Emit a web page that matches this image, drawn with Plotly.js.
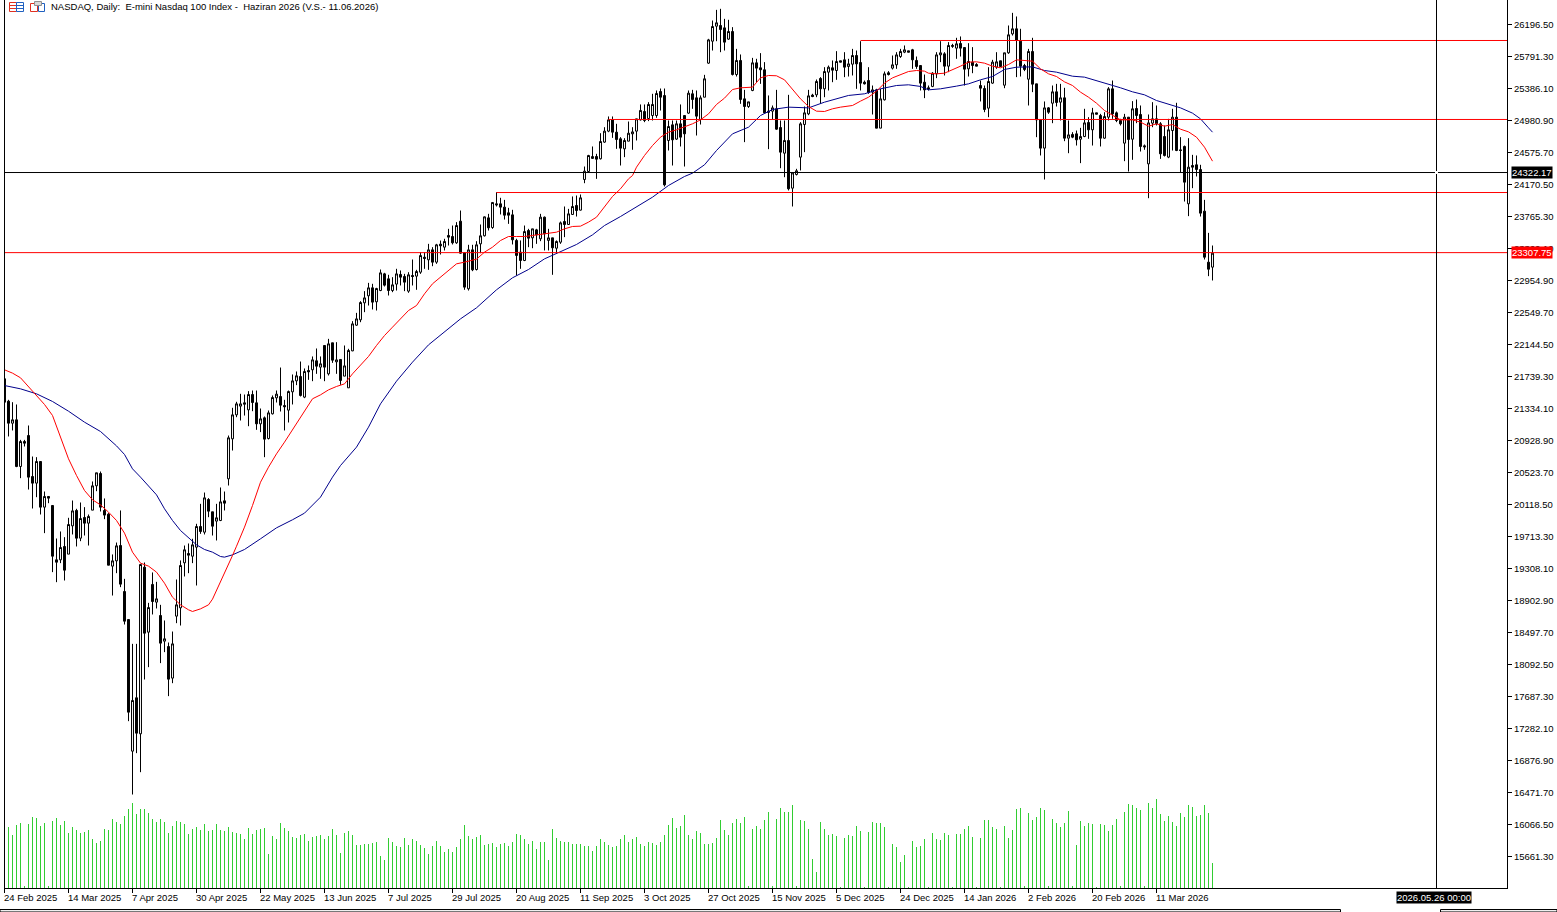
<!DOCTYPE html>
<html><head><meta charset="utf-8">
<script src="https://cdn.plot.ly/plotly-3.0.1.min.js"></script>
<style>html,body{margin:0;padding:0;background:#fff;overflow:hidden}#c{width:1557px;height:912px}</style>
</head><body><div id="c"></div>
<script>
const opens=[21710,21427,21148,21191,20600,20916,20992,20473,20389,20663,
20085,20220,20106,19418,19418,19587,19490,19848,20043,19692,
19954,19882,20047,20355,20511,20043,19996,19338,19405,19599,
19017,18662,16995,17671,17215,19325,18502,19106,18882,18713,
18388,18320,17920,18705,18810,19380,19498,19464,19578,19840,
19768,20182,20026,19908,19916,20165,20444,20950,21254,21364,
21406,21317,21511,21406,21140,21216,20954,21267,21469,21486,
21372,21313,21545,21684,21739,21478,21815,21824,21938,21858,
22132,21773,22166,21925,21955,21744,21596,22064,22389,22457,
22672,22761,22862,22685,22828,23039,22976,22828,22909,23031,
23006,22820,23018,23010,23060,23250,23217,23343,23187,23415,
23377,23525,23512,23432,23706,23305,22850,23343,23094,23419,
23521,23748,23626,23926,23926,23884,23812,23786,23462,23314,
23208,23588,23495,23596,23483,23757,23462,23495,23364,23440,
23702,23664,23791,23905,23846,24234,24335,24500,24525,24496,
24707,24846,24989,24833,24749,24622,24719,24812,24846,24989,
25095,25006,25044,25044,25348,25297,24728,24926,24745,24939,
25044,25074,25319,25268,24994,25276,25707,25985,26175,26184,
26154,26011,26108,25563,25741,25255,25158,25361,25711,25648,
25623,25099,25099,25129,24892,24567,24728,24124,24297,24517,
24930,25065,25302,25306,25513,25382,25593,25648,25614,25737,
25749,25665,25694,25804,25715,25466,25487,25340,25369,24884,
25243,25585,25644,25686,25791,25846,25863,25876,25741,25677,
25466,25395,25412,25572,25812,25825,25669,25918,25897,25956,
25905,25635,25720,25690,25424,25386,25137,25454,25656,25737,
25428,25838,26078,26142,25985,25677,25504,25855,25445,24989,
24631,25141,25200,25344,25213,25268,24757,24804,24812,24744,
24778,24956,24863,25078,25044,24757,25023,25382,25078,24981,
24694,25023,24744,25133,25057,24660,24432,24947,25002,24939,
24778,24517,24854,25023,24609,24652,23926,24411,24420,24360,
23833,23187,23124];
const highs=[21710,21444,21414,21385,20937,20937,21119,20726,20718,20663,
20283,20220,20106,19688,19777,19705,19950,20169,20064,20144,
20085,19992,20410,20520,20536,20195,20009,19486,19637,20043,
19177,18662,18354,18354,19367,19384,18873,19258,19139,18848,
18650,18371,18510,19169,19410,19599,19625,19684,19874,20127,
20270,20199,20026,20127,20334,20283,20992,21343,21419,21520,
21511,21554,21562,21562,21334,21233,21309,21499,21562,21853,
21444,21562,21765,21803,21929,21841,21879,21993,22094,21993,
22132,22216,22166,22174,21955,22132,22090,22440,22545,22693,
22820,22925,22913,22862,23094,23052,23027,22997,23103,23082,
23039,23060,23221,23090,23314,23314,23419,23377,23419,23461,
23483,23609,23651,23694,23841,23314,23407,23407,23453,23664,
23765,23799,23947,24073,24002,23976,23875,23850,23483,23462,
23651,23609,23609,23609,23799,23765,23609,23495,23462,23702,
23892,23862,24019,24031,24044,24398,24546,24652,24559,24820,
24896,25032,25032,24939,24770,24757,24968,24896,25002,25184,
25184,25213,25319,25361,25386,25386,24981,24981,24981,25184,
25044,25361,25369,25361,25298,25559,26015,26247,26382,26395,
26268,26256,26163,25888,25817,25369,25217,25774,25762,25834,
25720,25298,25171,25369,24981,24981,25306,24318,24369,24960,
25158,25369,25319,25500,25530,25656,25677,25741,25859,25737,
25846,25762,25888,25867,25985,25487,25656,25424,25382,25382,
25601,25606,25804,25846,25888,25931,25863,25888,25791,25677,
25563,25424,25593,25846,25985,25846,25973,25952,26028,26045,
25905,25960,25910,25707,25487,25424,25656,25749,25846,25737,
25838,26184,26344,26298,26142,25698,25888,26028,25445,24989,
25222,25150,25424,25445,25445,25395,24981,24833,24854,24888,
25129,25023,25141,25078,25065,25086,25403,25487,25095,25002,
25065,25023,25226,25247,25171,24677,25057,25213,25171,24960,
24918,25002,25129,25205,24770,24664,24757,24546,24538,24420,
23976,23558,23398];
const lows=[21414,20980,21056,20591,20452,20853,20308,20068,20211,19992,
19756,20135,19262,19135,19376,19156,19490,19739,19587,19654,
19726,19599,20047,20287,20030,19933,19350,18966,19249,19072,
18599,17375,16446,16970,16729,17903,18059,18726,18802,18110,
18249,17692,17856,18616,18586,19207,19249,19376,19093,19747,
19739,19958,19726,19663,19908,20043,20359,20802,21224,21182,
21245,21110,21300,21064,21035,20718,20942,21258,21410,21296,
21056,21157,21385,21630,21486,21465,21697,21680,21773,21710,
21680,21752,21912,21773,21634,21744,21596,22060,22381,22427,
22554,22638,22588,22575,22820,22879,22765,22807,22828,22892,
22820,22799,22892,22837,23039,23103,23090,23136,23166,23284,
23335,23398,23411,23419,23293,22837,22828,23073,23082,23301,
23512,23588,23609,23892,23791,23727,23672,23411,23018,23103,
23200,23377,23364,23419,23453,23335,23335,23027,23293,23419,
23504,23664,23791,23765,23841,24187,24327,24500,24242,24487,
24698,24833,24761,24622,24411,24517,24719,24610,24728,24981,
24960,24973,24981,25015,25107,24145,24601,24411,24736,24652,
24398,25065,25129,24791,24930,25276,25698,25867,25985,25846,
25867,26002,25551,25538,25192,24707,25141,25352,25466,25445,
25065,24618,24989,24863,24377,24263,24095,23892,24285,24348,
24580,25048,25276,25276,25192,25276,25361,25466,25496,25720,
25530,25538,25551,25382,25361,25437,25319,25057,24884,24884,
25234,25551,25627,25635,25774,25834,25846,25635,25635,25361,
25264,25361,25403,25517,25720,25551,25593,25901,25762,25791,
25424,25538,25580,25669,25222,25086,25023,25445,25635,25665,
25390,25825,26057,25530,25538,25606,25171,25340,24770,24538,
24234,25065,24947,25158,24981,24719,24567,24757,24664,24441,
24770,24749,24664,25061,24652,24749,24981,25002,24960,24918,
24466,24335,24483,24947,24588,24610,23997,24896,24918,24495,
24525,24504,24601,24593,24327,23955,23770,24124,24272,23765,
23221,23010,22955];
const closes=[21414,21148,21191,20600,20916,20895,20465,20389,20663,20085,
20220,20199,19464,19388,19574,19287,19865,20038,19692,19941,
19882,19967,20355,20520,20085,19984,19350,19405,19595,19110,
18641,17489,17637,17223,19359,18489,18814,18890,18924,18363,
18418,17907,18354,18848,19346,19545,19477,19608,19840,19777,
20203,20034,19844,19950,20152,20135,20963,21254,21393,21393,
21389,21511,21410,21140,21203,20946,21279,21473,21516,21376,
21355,21549,21684,21748,21499,21803,21798,21950,21870,21900,
21858,22153,21946,21950,21689,21874,22069,22406,22469,22676,
22735,22862,22681,22854,23052,22896,22828,22900,23039,22997,
22934,23027,23006,23069,23271,23233,23343,23187,23407,23394,
23449,23504,23432,23651,23301,22871,23343,23090,23407,23521,
23761,23622,23943,23913,23884,23782,23782,23470,23272,23208,
23575,23491,23609,23533,23757,23546,23495,23369,23449,23685,
23664,23799,23892,23841,24002,24339,24538,24525,24491,24715,
24846,24989,24833,24740,24631,24728,24820,24837,25002,25108,
24981,25184,25184,25323,25276,24166,24905,24736,24939,24770,
24812,25327,25247,25036,25268,25509,26002,26171,26218,26133,
25973,26108,25563,25741,25247,25158,25217,25711,25644,25623,
25078,25086,25141,24871,24580,24728,24116,24318,24344,24939,
25078,25293,25285,25475,25382,25601,25656,25618,25728,25720,
25656,25698,25804,25698,25454,25445,25336,25369,24884,25255,
25572,25563,25686,25812,25855,25876,25846,25749,25665,25454,
25369,25382,25580,25812,25838,25669,25931,25931,25952,25897,
25631,25728,25677,25669,25390,25120,25475,25720,25724,25665,
25838,26066,26142,25994,25669,25627,25855,25441,24989,24631,
25141,25086,25344,25209,25268,24757,24799,24770,24736,24778,
24951,24863,25078,25061,24757,25031,25382,25065,24981,24939,
25023,24740,25129,25044,24652,24647,24951,25002,24939,24559,
24538,24863,25023,24601,24601,24200,24390,24390,24360,23808,
23250,23098,23301];
const volumes=[60,61,53,63,65,2,64,71,70,62,65,2,67,70,63,67,55,61,58,55,56,58,49,45,47,59,58,69,66,64,72,79,85,74,79,79,75,69,66,69,66,55,62,67,66,64,54,59,61,58,64,57,58,64,58,57,61,56,55,54,49,60,54,58,59,60,34,52,49,65,60,57,51,50,53,54,47,51,52,53,49,52,59,53,35,55,57,53,43,43,44,44,45,46,32,28,50,46,42,41,50,43,49,47,43,40,34,42,47,42,36,39,36,41,49,63,52,49,51,53,43,44,45,41,44,45,42,46,54,53,49,44,47,39,46,46,28,59,50,47,46,46,44,44,44,42,42,37,42,49,46,43,41,42,
49,53,46,49,51,44,42,46,45,43,46,53,63,70,60,62,73,53,49,57,55,44,44,45,50,68,58,53,65,69,65,71,2,59,62,59,68,76,2,69,80,76,76,83,2,68,67,59,29,16,66,59,53,54,52,1,50,53,52,62,57,1,56,66,65,65,61,1,44,41,26,33,1,47,41,42,49,1,55,49,48,55,53,1,54,54,59,62,51,1,50,68,68,61,59,1,62,50,58,79,80,2,75,68,71,80,78,2,69,65,61,65,77,2,43,67,62,65,64,1,64,63,57,63,69,2,76,84,83,80,78,2,85,80,89,74,67,72,66,62,75,71,83,81,72,73,83,75,25];
const redMaIdx=[0,2,4,6,8,10,12,14,16,18,20,22,24,26,28,30,32,34,36,38,40,42,44,46,47,49,51,52,54,56,57,58,60,62,64,66,68,70,72,74,76,77,79,81,83,85,87,89,91,93,95,97,99,101,103,105,107,109,111,113,115,118,120,122,124,126,128,130,132,134,136,138,140,142,144,146,148,150,152,154,156,157,158,160,162,164,166,168,170,172,174,176,178,180,182,184,187,189,191,193,195,197,199,201,203,205,207,209,212,214,216,218,220,222,224,226,228,230,231,233,235,237,239,241,243,245,247,249,251,253,255,257,259,261,263,265,267,269,271,273,275,277,279,282,284,286,288,290,292,294,296,298,300,302];
const redMaVal=[21824,21782,21723,21613,21499,21385,21246,20963,20697,20486,20296,20178,20114,20022,19916,19756,19515,19376,19338,19262,19122,18945,18848,18785,18764,18797,18848,18920,19135,19367,19473,19590,19832,20106,20401,20591,20760,20908,21064,21224,21385,21457,21507,21570,21613,21646,21773,21879,21993,22132,22258,22364,22469,22575,22638,22786,22913,22997,23082,23166,23187,23225,23314,23377,23461,23512,23512,23512,23525,23537,23546,23567,23609,23639,23643,23694,23757,23883,24019,24116,24242,24284,24390,24538,24664,24770,24833,24863,24896,24939,24989,25065,25184,25264,25373,25395,25403,25521,25551,25547,25496,25382,25255,25158,25099,25095,25129,25150,25171,25226,25276,25352,25454,25521,25563,25601,25614,25606,25580,25572,25580,25622,25669,25720,25724,25707,25669,25648,25690,25749,25741,25732,25635,25572,25538,25470,25424,25340,25276,25200,25107,25053,24989,24989,24960,24909,24939,24909,24930,24871,24837,24770,24643,24466];
const blueMaIdx=[0,4,8,12,16,20,24,28,30,32,34,36,38,40,42,44,46,48,50,52,54,55,57,60,64,68,72,75,79,82,84,88,91,94,98,102,106,110,114,118,123,127,131,135,139,143,147,150,154,158,162,166,170,172,175,178,182,186,189,192,196,201,205,211,215,219,223,226,229,231,234,238,241,244,247,250,253,257,260,263,267,270,273,276,279,282,285,288,291,294,297,299,301,302];
const blueMaVal=[21625,21583,21520,21423,21300,21161,21043,20861,20752,20570,20465,20359,20241,20064,19916,19789,19697,19608,19549,19515,19460,19452,19481,19549,19684,19823,19925,20009,20212,20465,20612,20845,21098,21393,21680,21921,22140,22301,22469,22609,22837,22989,23094,23229,23322,23411,23533,23651,23765,23883,24010,24158,24272,24314,24420,24601,24812,24896,25044,25120,25150,25141,25213,25298,25319,25382,25424,25433,25412,25369,25382,25416,25445,25496,25538,25627,25656,25660,25614,25593,25542,25530,25487,25437,25395,25344,25306,25234,25183,25141,25074,25002,24888,24833];
const priceTicks=[26196.50,25791.30,25386.10,24980.90,24575.70,24170.50,23765.30,23360.10,22954.90,22549.70,22144.50,21739.30,21334.10,20928.90,20523.70,20118.50,19713.30,19308.10,18902.90,18497.70,18092.50,17687.30,17282.10,16876.90,16471.70,16066.50,15661.30];
const dateLabels=["24 Feb 2025","14 Mar 2025","7 Apr 2025","30 Apr 2025","22 May 2025","13 Jun 2025","7 Jul 2025","29 Jul 2025","20 Aug 2025","11 Sep 2025","3 Oct 2025","27 Oct 2025","15 Nov 2025","5 Dec 2025","24 Dec 2025","14 Jan 2026","2 Feb 2026","20 Feb 2026","11 Mar 2026"];
const dateTickIdx=dateLabels.map((_,k)=>k*16);
const askLine=24322.17, bidLine=23307.75;
const levels=[{start:214,price:25994},{start:151,price:24994},{start:123,price:24069}];

const W=1557,H=912,L=4,R=1507,T=0,B=888;
const px=x=>(x-L)/(R-L), py=y=>(B-y)/(B-T);
const xMin=-0.125,xMax=375.625;
const idx=opens.map((_,i)=>i);
const FONT='"Liberation Sans", sans-serif';
const FS=9.5;

const traces=[
 {type:'bar',x:volumes.map((_,i)=>i),y:volumes,yaxis:'y2',width:0.25,marker:{color:'#32cd32',line:{width:0}},hoverinfo:'skip',showlegend:false},
 {type:'candlestick',x:idx,open:opens,high:highs,low:lows,close:closes,whiskerwidth:0,width:0.5,hoverinfo:'skip',showlegend:false,
  increasing:{line:{color:'#000',width:1},fillcolor:'#fff'},decreasing:{line:{color:'#000',width:1},fillcolor:'#000'}},
 {type:'scatter',mode:'lines',x:blueMaIdx,y:blueMaVal,line:{color:'#00008b',width:1},hoverinfo:'skip',showlegend:false},
 {type:'scatter',mode:'lines',x:redMaIdx,y:redMaVal,line:{color:'#ff0000',width:1},hoverinfo:'skip',showlegend:false}
];
const rect=(x0,y0,x1,y1,line,fill,w)=>({type:'rect',xref:'paper',yref:'paper',x0:px(x0),x1:px(x1),y0:py(y0),y1:py(y1),line:{color:line,width:w===undefined?1:w},fillcolor:fill||'rgba(0,0,0,0)',layer:'above'});
const seg=(x0,y0,x1,y1,c)=>({type:'line',xref:'paper',yref:'paper',x0:px(x0),x1:px(x1),y0:py(y0),y1:py(y1),line:{color:c,width:1},layer:'above'});
const shapes=[
 {type:'line',xref:'x',yref:'y',x0:xMin,x1:xMax,y0:askLine,y1:askLine,line:{color:'#000',width:1}},
 {type:'line',xref:'x',yref:'y',x0:xMin,x1:xMax,y0:bidLine,y1:bidLine,line:{color:'#ff0000',width:1}},
 ...levels.map(l=>({type:'line',xref:'x',yref:'y',x0:l.start,x1:xMax,y0:l.price,y1:l.price,line:{color:'#ff0000',width:1}})),
 seg(1436.5,0,1436.5,888,'#000'),
 rect(1435,171,1438,174,'#fff','#fff',0),
 rect(0,909.5,1340.5,912,'#000','#f0f0f0'),
 rect(1440.5,909.5,1557,912,'#000','#f0f0f0'),
 rect(9.5,2.5,16.5,11.5,'#e03020','#fff'),rect(16.5,2.5,23.5,11.5,'#2060c0','#fff'),
 seg(10,5.5,16,5.5,'#e03020'),seg(10,8.5,16,8.5,'#e03020'),seg(17,5.5,23,5.5,'#2060c0'),seg(17,8.5,23,8.5,'#2060c0'),
 rect(30.5,3.5,37.5,11.5,'#e03020','#fff'),rect(38.5,3.5,44.5,11.5,'#2060c0','#fff'),rect(34.5,1.5,41.5,5.5,'#909090','#d8d8d8')
];
const ann=(text,x,y,opts)=>Object.assign({text,x:px(x),y:py(y),xref:'paper',yref:'paper',xanchor:'left',yanchor:'middle',showarrow:false,font:{family:FONT,size:FS,color:'#000'}},opts||{});
const annotations=[
 ann('NASDAQ, Daily:  E-mini Nasdaq 100 Index -  Haziran 2026 (V.S.- 11.06.2026)',49,7),
 ...dateLabels.map((t,k)=>ann(t,2+16*k*4,897.5)),
 ann(askLine.toFixed(2),1511,172.5,{bgcolor:'#000',borderpad:0,font:{family:FONT,size:FS,color:'#fff'}}),
 ann(bidLine.toFixed(2),1511,252.5,{bgcolor:'#ff0000',borderpad:0,font:{family:FONT,size:FS,color:'#fff'}}),
 ann('2026.05.26 00:00',1396,897,{bgcolor:'#000',borderpad:0,font:{family:FONT,size:FS,color:'#fff'}})
];
const layout={width:W,height:H,margin:{l:L,r:W-R,t:T,b:H-B,pad:0},paper_bgcolor:'#fff',plot_bgcolor:'#fff',showlegend:false,bargap:0,
 xaxis:{range:[xMin,xMax],tickmode:'array',tickvals:dateTickIdx,showticklabels:false,ticks:'outside',ticklen:4,tickcolor:'#000',tickwidth:1,showgrid:false,zeroline:false,showline:true,linecolor:'#000',linewidth:1,mirror:false,rangeslider:{visible:false},fixedrange:true},
 yaxis:{range:[15262.43,26506.73],side:'right',tickmode:'array',tickvals:priceTicks,ticktext:priceTicks.map(v=>v.toFixed(2)),ticks:'outside',ticklen:4,tickcolor:'#000',tickwidth:1,tickfont:{family:FONT,size:FS,color:'#000'},showgrid:false,zeroline:false,showline:true,linecolor:'#000',linewidth:1,fixedrange:true},
 yaxis2:{range:[0,888],overlaying:'y',side:'left',visible:false,fixedrange:true},
 shapes,annotations};
layout.shapes.push(seg(4.5,0,4.5,888,'#000'));
Plotly.newPlot('c',traces,layout,{displayModeBar:false,staticPlot:true});
</script></body></html>
